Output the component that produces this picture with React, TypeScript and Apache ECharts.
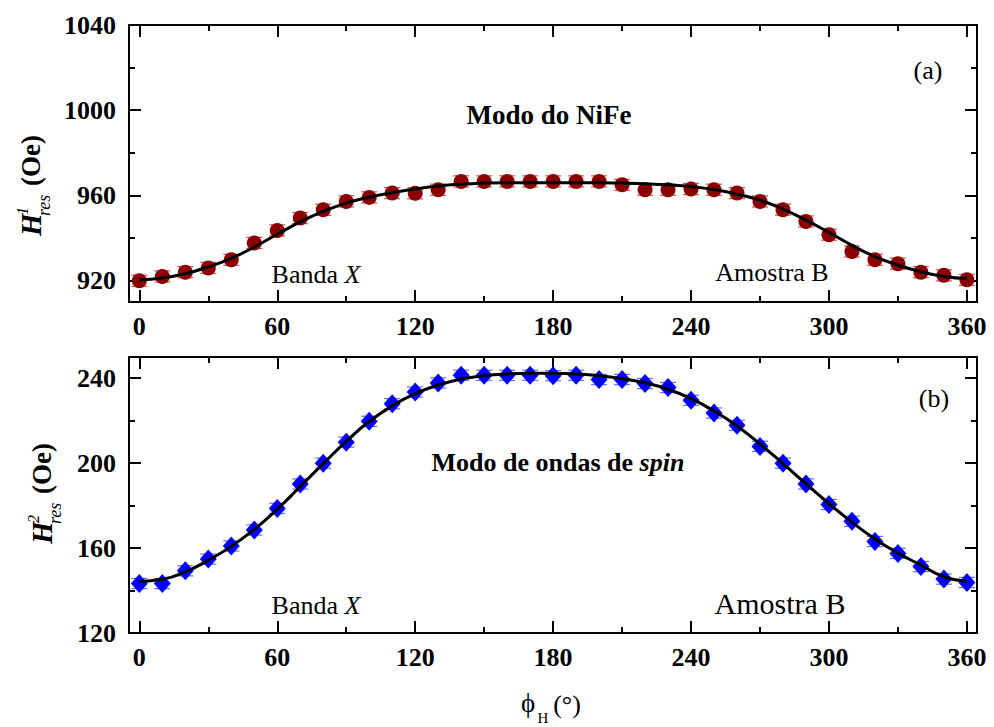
import React, { useEffect, useRef } from "react";
import * as echarts from "echarts";

const SERIF = "Liberation Serif, Times New Roman, serif";

// ---- data ----
const angles = [0, 10, 20, 30, 40, 50, 60, 70, 80, 90, 100, 110, 120, 130, 140, 150, 160, 170, 180,
  190, 200, 210, 220, 230, 240, 250, 260, 270, 280, 290, 300, 310, 320, 330, 340, 350, 360];

const h1Data = [920, 922, 924, 926, 929.8, 937.7, 943.6, 949.4, 953.3, 957.2, 959.1, 961.1, 961, 962.7,
  966.6, 966.6, 966.6, 966.6, 966.6, 966.6, 966.6, 965, 962.7, 962.7, 963, 962.7, 961.1, 957.2, 953.3,
  947.8, 941.6, 933.7, 929.8, 928, 924, 922.5, 920.4];
const h1Err = [2.6, 2.6, 2.6, 2.6, 2.6, 2.6, 2.6, 2.6, 2.6, 2.6, 2.6, 2.6, 2.6, 2.6, 2.6, 2.6, 2.6, 2.6, 2.6,
  2.6, 2.6, 2.6, 2.6, 2.6, 2.6, 2.6, 2.6, 2.6, 2.6, 2.6, 2.6, 2.6, 2.6, 2.6, 2.6, 2.6, 2.6];
const h1Fit = [920.5, 921.3, 923.3, 926.5, 930.5, 935.8, 941.8, 947.6, 952.5, 956.4, 959.2, 961.3, 963,
  964.4, 965.3, 965.8, 966, 966, 966, 966, 966, 965.8, 965.5, 965, 964.2, 962.8, 960.6, 957.8, 953.6,
  948.4, 942.6, 936.6, 931.3, 927.3, 924.2, 922, 921];

const h2Data = [143.3, 143.3, 149.3, 154.8, 161, 168.5, 178.7, 190.2, 200, 209.9, 219.7, 228, 233.5,
  237.8, 241.4, 241.4, 241.4, 241.4, 241.2, 241.4, 239.4, 239.4, 237.5, 235.6, 229.6, 223.6, 217.8,
  207.9, 200, 190.2, 180.5, 172.6, 163.1, 157.5, 151.3, 145.4, 143.8];
const h2Err = [2.4, 2.4, 2.4, 2.4, 2.4, 2.4, 2.4, 2.4, 2.4, 2.4, 2.4, 2.4, 2.4, 2.4, 2.4, 2.4, 2.4, 2.4, 2.4,
  2.4, 2.4, 2.4, 2.4, 2.4, 2.4, 2.4, 2.4, 2.4, 2.4, 2.4, 2.4, 2.4, 2.4, 2.4, 2.4, 2.4, 2.4];
const h2Fit = [144.3, 145.3, 148.8, 154.3, 160.8, 168.8, 178.3, 189, 199.8, 210.3, 219.6, 227, 232.7,
  236.8, 239.6, 241.2, 242, 242.3, 242.3, 242, 241.2, 239.8, 237.8, 234.8, 230.4, 224.6, 217.5, 209,
  199.8, 190.3, 181, 172.2, 164.3, 157.6, 152, 146.5, 144.5];

const xMajorTicks = [0, 60, 120, 180, 240, 300, 360];
const xMinorTicks = [30, 90, 150, 210, 270, 330];
const y1Major = [920, 960, 1000, 1040];
const y1Minor = [940, 980, 1020];
const y2Major = [120, 160, 200, 240];
const y2Minor = [140, 180, 220];

// ---- layout ----
const X_MIN = -4.5;
const X_MAX = 364.4;
const Y1 = { min: 910, max: 1040 };
const Y2 = { min: 120, max: 250 };

const labelStyle = {
  color: "#000",
  fontFamily: SERIF,
  fontWeight: "bold" as const,
  fontSize: 26,
  formatter: (v: number) => String(v),
};

function mkX(g: number, pos: string, line: boolean, ticks: number[], len: number, labels: boolean) {
  return {
    type: "value",
    gridIndex: g,
    position: pos,
    min: X_MIN,
    max: X_MAX,
    axisLine: { show: line, onZero: false, lineStyle: { color: "#000", width: 2 } },
    axisTick: { show: true, inside: true, length: len, customValues: ticks, lineStyle: { color: "#000", width: 2 } },
    axisLabel: labels
      ? { show: true, customValues: xMajorTicks, margin: 11, ...labelStyle }
      : { show: false },
    splitLine: { show: false },
  };
}

function mkY(g: number, pos: string, range: { min: number; max: number }, line: boolean, ticks: number[], len: number, labels: number[] | null) {
  return {
    type: "value",
    gridIndex: g,
    position: pos,
    min: range.min,
    max: range.max,
    axisLine: { show: line, onZero: false, lineStyle: { color: "#000", width: 2 } },
    axisTick: { show: true, inside: true, length: len, customValues: ticks, lineStyle: { color: "#000", width: 2 } },
    axisLabel: labels
      ? { show: true, customValues: labels, margin: 13, ...labelStyle }
      : { show: false },
    splitLine: { show: false },
  };
}

function errSeries(xi: number, yi: number, vals: number[], errs: number[], color: string, hw: number) {
  return {
    type: "custom",
    xAxisIndex: xi,
    yAxisIndex: yi,
    z: 2,
    silent: true,
    data: angles.map((a, i) => [a, vals[i], errs[i]]),
    encode: { x: 0, y: 1 },
    renderItem: (_p: any, api: any) => {
      const x = api.value(0);
      const y = api.value(1);
      const e = api.value(2);
      const t = api.coord([x, y + e]);
      const b = api.coord([x, y - e]);
      const st = { stroke: color, lineWidth: 1.2 };
      return {
        type: "group",
        children: [
          { type: "line", shape: { x1: t[0], y1: t[1], x2: b[0], y2: b[1] }, style: st },
          { type: "line", shape: { x1: t[0] - hw, y1: t[1], x2: t[0] + hw, y2: t[1] }, style: st },
          { type: "line", shape: { x1: b[0] - hw, y1: b[1], x2: b[0] + hw, y2: b[1] }, style: st },
        ],
      };
    },
  };
}

function txt(x: number, y: number, text: string, size: number, weight = "normal", style = "normal", extra: any = {}) {
  return {
    type: "text",
    x,
    y,
    z: 100,
    style: {
      text,
      fill: "#000",
      fontFamily: SERIF,
      fontSize: size,
      fontWeight: weight,
      fontStyle: style,
      align: "center",
      verticalAlign: "middle",
      ...extra,
    },
  };
}

function richTok(size: number, weight: string, style: string) {
  return { fontFamily: SERIF, fontSize: size, fontWeight: weight, fontStyle: style, fill: "#000" };
}

function yName(x: number, y: number, sup: string) {
  return {
    type: "group",
    x,
    y,
    rotation: Math.PI / 2,
    z: 100,
    children: [
      { type: "text", x: 0, y: 0, style: { text: "H", fill: "#000", fontFamily: SERIF, fontSize: 29, fontWeight: "bold", fontStyle: "italic", align: "left", verticalAlign: "middle" } },
      { type: "text", x: 21, y: -9, style: { text: sup, fill: "#000", fontFamily: SERIF, fontSize: 16, fontWeight: "normal", fontStyle: "italic", align: "left", verticalAlign: "middle" } },
      { type: "text", x: 20, y: 13, style: { text: "res", fill: "#000", fontFamily: SERIF, fontSize: 18, fontWeight: "normal", fontStyle: "italic", align: "left", verticalAlign: "middle" } },
      { type: "text", x: 50, y: 0, style: { text: "(Oe)", fill: "#000", fontFamily: SERIF, fontSize: 27, fontWeight: "bold", fontStyle: "normal", align: "left", verticalAlign: "middle" } },
    ],
  };
}

export default function App() {
  const ref = useRef<HTMLDivElement>(null);
  useEffect(() => {
    if (!ref.current) return;
    const chart = echarts.init(ref.current, null, { renderer: "svg" });

    const xAxes: any[] = [];
    const yAxes: any[] = [];
    [0, 1].forEach((g) => {
      xAxes.push(mkX(g, "bottom", true, xMajorTicks, 12, true));
      xAxes.push(mkX(g, "bottom", false, xMinorTicks, 6, false));
      xAxes.push(mkX(g, "top", true, xMajorTicks, 12, false));
      xAxes.push(mkX(g, "top", false, xMinorTicks, 6, false));
      const r = g === 0 ? Y1 : Y2;
      const maj = g === 0 ? y1Major : y2Major;
      const min = g === 0 ? y1Minor : y2Minor;
      yAxes.push(mkY(g, "left", r, true, maj, 12, maj));
      yAxes.push(mkY(g, "left", r, false, min, 6, null));
      yAxes.push(mkY(g, "right", r, true, maj, 12, null));
      yAxes.push(mkY(g, "right", r, false, min, 6, null));
    });

    const option: any = {
      animation: false,
      backgroundColor: "#fff",
      grid: [
        { left: 129, top: 25, width: 848, height: 277 },
        { left: 129, top: 357, width: 848, height: 276 },
      ],
      xAxis: xAxes,
      yAxis: yAxes,
      series: [
        {
          type: "scatter",
          xAxisIndex: 0,
          yAxisIndex: 0,
          z: 3,
          symbol: "circle",
          symbolSize: 15,
          itemStyle: { color: "#8b0000", opacity: 1 },
          data: angles.map((a, i) => [a, h1Data[i]]),
        },
        errSeries(0, 0, h1Data, h1Err, "#e04848", 8),
        {
          type: "line",
          xAxisIndex: 0,
          yAxisIndex: 0,
          z: 4,
          smooth: true,
          showSymbol: false,
          symbol: "none",
          lineStyle: { color: "#000", width: 3 },
          data: angles.map((a, i) => [a, h1Fit[i]]),
        },
        {
          type: "scatter",
          xAxisIndex: 4,
          yAxisIndex: 4,
          z: 3,
          symbol: "diamond",
          symbolSize: [17, 19],
          itemStyle: { color: "#0000ff", opacity: 1 },
          data: angles.map((a, i) => [a, h2Data[i]]),
        },
        errSeries(4, 4, h2Data, h2Err, "#6a6aff", 8),
        {
          type: "line",
          xAxisIndex: 4,
          yAxisIndex: 4,
          z: 4,
          smooth: true,
          showSymbol: false,
          symbol: "none",
          lineStyle: { color: "#000", width: 3 },
          data: angles.map((a, i) => [a, h2Fit[i]]),
        },
      ],
      graphic: [
        txt(928, 70, "(a)", 26),
        txt(549, 115, "Modo do NiFe", 27, "bold"),
        {
          type: "text",
          x: 316,
          y: 274,
          z: 100,
          style: {
            text: "{n|Banda }{i|X}",
            align: "center",
            verticalAlign: "middle",
            rich: { n: richTok(26, "normal", "normal"), i: richTok(26, "normal", "italic") },
          },
        },
        txt(772, 272, "Amostra B", 26),
        txt(934, 398, "(b)", 26),
        {
          type: "text",
          x: 558,
          y: 462,
          z: 100,
          style: {
            text: "{n|Modo de ondas de }{i|spin}",
            align: "center",
            verticalAlign: "middle",
            rich: { n: richTok(26, "bold", "normal"), i: richTok(26, "bold", "italic") },
          },
        },
        {
          type: "text",
          x: 316,
          y: 605,
          z: 100,
          style: {
            text: "{n|Banda }{i|X}",
            align: "center",
            verticalAlign: "middle",
            rich: { n: richTok(26, "normal", "normal"), i: richTok(26, "normal", "italic") },
          },
        },
        txt(780, 603, "Amostra B", 30),
        yName(31, 236, "1"),
        yName(42, 544, "2"),
        txt(528, 703, "\u03d5", 27),
        txt(543, 718, "H", 15),
        txt(567, 704, "(\u00b0)", 26),
      ],
    };

    chart.setOption(option);
    return () => chart.dispose();
  }, []);

  return (
    <div
      ref={ref}
      style={{ position: "fixed", left: 0, top: 0, width: 994, height: 727, background: "#fff" }}
    />
  );
}
